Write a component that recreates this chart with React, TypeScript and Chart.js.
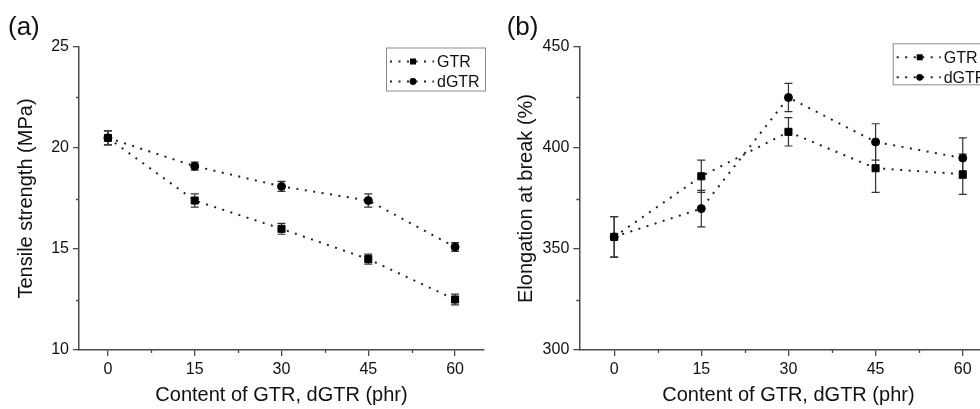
import React, { useEffect, useRef } from "react";
import { Chart, registerables } from "chart.js";

Chart.register(...registerables);

// ---------- data ----------
const contentPhr = [0, 15, 30, 45, 60];
const xMajorTicks = [0, 15, 30, 45, 60];
const xMinorTicks = [7.5, 22.5, 37.5, 52.5];
const seriesNames = ["GTR", "dGTR"];

const tensileGTR = [20.5, 17.4, 16.0, 14.5, 12.5];
const tensileGTRErr = [0.35, 0.33, 0.27, 0.25, 0.27];
const tensileDGTR = [20.5, 19.1, 18.1, 17.4, 15.1];
const tensileDGTRErr = [0.35, 0.2, 0.25, 0.33, 0.22];
const tensileMajorTicks = [10, 15, 20, 25];
const tensileMinorTicks = [12.5, 17.5, 22.5];

const elongGTR = [356, 386, 408, 390, 387];
const elongGTRErr = [10, 8, 7, 12, 10];
const elongDGTR = [356, 370, 425, 403, 395];
const elongDGTRErr = [10, 9, 7, 9, 10];
const elongMajorTicks = [300, 350, 400, 450];
const elongMinorTicks = [325, 375, 425];

const FONT = "'Liberation Sans', Arial, Helvetica, sans-serif";
const AXIS = "#4a4a4a";
const INK = "#111";

const decorPlugin = {
  id: "decor",
  beforeDatasetsDraw(chart: any) {
    const ctx = chart.ctx;
    const xs = chart.scales.x;
    const ys = chart.scales.y;
    ctx.save();
    ctx.strokeStyle = "#333";
    ctx.lineWidth = 1.2;
    chart.data.datasets.forEach((ds: any) => {
      const errs: number[] = ds.errors || [];
      ds.data.forEach((p: any, j: number) => {
        const e = errs[j];
        if (!e) return;
        const x = xs.getPixelForValue(p.x);
        const yt = ys.getPixelForValue(p.y + e);
        const yb = ys.getPixelForValue(p.y - e);
        ctx.beginPath();
        ctx.moveTo(x, yt);
        ctx.lineTo(x, yb);
        ctx.moveTo(x - 4, yt);
        ctx.lineTo(x + 4, yt);
        ctx.moveTo(x - 4, yb);
        ctx.lineTo(x + 4, yb);
        ctx.stroke();
      });
    });
    ctx.restore();
  },
  afterDraw(chart: any, _args: any, opts: any) {
    const ctx = chart.ctx;
    const xs = chart.scales.x;
    const ys = chart.scales.y;
    const area = chart.chartArea;
    ctx.save();
    // minor ticks
    ctx.strokeStyle = AXIS;
    ctx.lineWidth = 1.3;
    ctx.beginPath();
    (opts.xMinor || []).forEach((v: number) => {
      const x = Math.round(xs.getPixelForValue(v)) + 0.5;
      ctx.moveTo(x, area.bottom);
      ctx.lineTo(x, area.bottom + 3);
    });
    (opts.yMinor || []).forEach((v: number) => {
      const y = Math.round(ys.getPixelForValue(v)) + 0.5;
      ctx.moveTo(area.left, y);
      ctx.lineTo(area.left - 3, y);
    });
    ctx.stroke();

    // legend
    const lg = opts.legend;
    ctx.strokeStyle = "#8a8a8a";
    ctx.lineWidth = 1;
    ctx.fillStyle = "#fff";
    ctx.fillRect(lg.left, lg.top, lg.width, lg.height);
    ctx.strokeRect(lg.left + 0.5, lg.top + 0.5, lg.width, lg.height);
    chart.data.datasets.forEach((ds: any, i: number) => {
      const cy = lg.top + 14 + i * 20;
      ctx.save();
      ctx.strokeStyle = ds.borderColor;
      ctx.lineWidth = ds.borderWidth;
      ctx.setLineDash(ds.borderDash);
      ctx.beginPath();
      ctx.moveTo(lg.left + 4, cy);
      ctx.lineTo(lg.left + 48, cy);
      ctx.stroke();
      ctx.restore();
      const mx = lg.left + 27;
      ctx.fillStyle = "#000";
      if (ds.pointStyle === "rect") {
        ctx.fillRect(mx - 3, cy - 3, 6, 6);
      } else {
        ctx.beginPath();
        ctx.arc(mx, cy, 3.4, 0, Math.PI * 2);
        ctx.fill();
      }
      ctx.fillStyle = INK;
      ctx.font = `16px ${FONT}`;
      ctx.textBaseline = "middle";
      ctx.textAlign = "left";
      ctx.fillText(ds.label, lg.left + 51, cy + 1);
    });

    // panel label
    ctx.fillStyle = INK;
    ctx.font = `26px ${FONT}`;
    ctx.textBaseline = "middle";
    ctx.textAlign = "left";
    ctx.fillText(opts.panel.text, opts.panel.x, opts.panel.y);
    ctx.restore();
  },
};

function makeConfig(p: any) {
  const mk = (vals: number[]) => contentPhr.map((x, i) => ({ x, y: vals[i] }));
  const common = {
    showLine: true,
    borderColor: "#222",
    backgroundColor: "#000",
    pointBackgroundColor: "#000",
    pointBorderColor: "#000",
    borderWidth: 2,
    borderDash: [2, 6.5],
    borderCapStyle: "butt",
    pointBorderWidth: 1,
    fill: false,
    tension: 0,
  };
  return {
    type: "scatter",
    data: {
      datasets: [
        {
          ...common,
          label: seriesNames[0],
          data: mk(p.s1),
          errors: p.e1,
          pointStyle: "rect",
          pointRadius: 5,
        },
        {
          ...common,
          label: seriesNames[1],
          data: mk(p.s2),
          errors: p.e2,
          pointStyle: "circle",
          pointRadius: 4,
        },
      ],
    },
    options: {
      responsive: false,
      animation: false,
      events: [],
      layout: { padding: { left: 0, top: 47, right: p.padRight, bottom: 0 } },
      plugins: {
        legend: { display: false },
        tooltip: { enabled: false },
        decor: {
          xMinor: xMinorTicks,
          yMinor: p.yMinor,
          legend: p.legend,
          panel: p.panel,
        },
      },
      scales: {
        x: {
          type: "linear",
          min: p.xMin,
          max: p.xMax,
          afterBuildTicks: (s: any) => {
            s.ticks = xMajorTicks.map((v) => ({ value: v }));
          },
          afterFit: (s: any) => {
            s.height = 59;
          },
          grid: { display: true, drawOnChartArea: false, drawTicks: true, tickLength: 6, color: AXIS, lineWidth: 1.3 },
          border: { display: true, color: AXIS, width: 1.5 },
          ticks: {
            color: INK,
            font: { size: 16, family: FONT },
            padding: 4,
            maxRotation: 0,
            autoSkip: false,
            callback: (v: any) => String(v),
          },
          title: {
            display: true,
            text: "Content of GTR, dGTR (phr)",
            color: INK,
            font: { size: 20, family: FONT },
            padding: { top: 0, bottom: 2 },
          },
        },
        y: {
          type: "linear",
          min: p.yMin,
          max: p.yMax,
          afterBuildTicks: (s: any) => {
            s.ticks = p.yMajor.map((v: number) => ({ value: v }));
          },
          afterFit: (s: any) => {
            s.width = p.yWidth;
          },
          grid: { display: true, drawOnChartArea: false, drawTicks: true, tickLength: 6, color: AXIS, lineWidth: 1.3 },
          border: { display: true, color: AXIS, width: 1.5 },
          ticks: {
            color: INK,
            font: { size: 16, family: FONT },
            padding: 4,
            autoSkip: false,
            callback: (v: any) => String(v),
          },
          title: {
            display: true,
            text: p.yTitle,
            color: INK,
            font: { size: 20, family: FONT },
            padding: { top: p.yTitlePad, bottom: 0 },
          },
        },
      },
    },
    plugins: [decorPlugin],
  };
}

function Panel(props: { cfg: any; width: number; left: number }) {
  const ref = useRef<HTMLCanvasElement>(null);
  useEffect(() => {
    if (!ref.current) return;
    const chart = new Chart(ref.current, props.cfg);
    return () => chart.destroy();
  }, []);
  return (
    <canvas
      ref={ref}
      width={props.width}
      height={409}
      style={{ position: "absolute", left: props.left, top: 0, width: props.width, height: 409, display: "block" }}
    />
  );
}

export default function App() {
  const cfgA = makeConfig({
    s1: tensileGTR,
    e1: tensileGTRErr,
    s2: tensileDGTR,
    e2: tensileDGTRErr,
    xMin: -5,
    xMax: 65,
    yMin: 10,
    yMax: 25,
    yMajor: tensileMajorTicks,
    yMinor: tensileMinorTicks,
    yWidth: 79,
    yTitle: "Tensile strength (MPa)",
    yTitlePad: 14,
    padRight: 5,
    legend: { left: 386, top: 47.5, width: 99, height: 43 },
    panel: { text: "(a)", x: 8, y: 28 },
  });
  const cfgB = makeConfig({
    s1: elongGTR,
    e1: elongGTRErr,
    s2: elongDGTR,
    e2: elongDGTRErr,
    xMin: -6,
    xMax: 66,
    yMin: 300,
    yMax: 450,
    yMajor: elongMajorTicks,
    yMinor: elongMinorTicks,
    yWidth: 89.3,
    yTitle: "Elongation at break (%)",
    yTitlePad: 24.5,
    padRight: 12.4,
    legend: { left: 402.7, top: 43.3, width: 100, height: 41 },
    panel: { text: "(b)", x: 16.7, y: 28 },
  });
  return (
    <div
      style={{
        position: "fixed",
        left: 0,
        top: 0,
        width: 980,
        height: 409,
        overflow: "hidden",
        background: "#fff",
      }}
    >
      <Panel cfg={cfgA} width={490} left={0} />
      <Panel cfg={cfgB} width={520} left={490} />
    </div>
  );
}
